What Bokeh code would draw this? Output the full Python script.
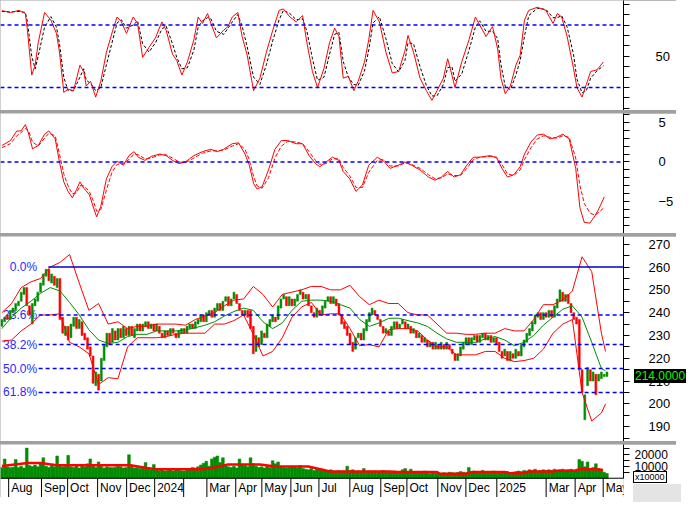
from bokeh.plotting import figure
from bokeh.layouts import column
from bokeh.models import ColumnDataSource, FixedTicker, Span, Range1d, Div
from bokeh.embed import file_html
from bokeh.resources import INLINE
from bokeh.core.properties import value

FONT = "Liberation Sans"

# ---------------- data ----------------
# trading-day positions of sampled bars (every 2nd session)
bar_t = list(range(0, 440, 2))
bar_open = [
    234, 236, 239, 237, 240, 241, 243, 245, 248, 251,
    243, 235, 243, 245, 249, 252, 256, 259, 253, 256,
    251, 255, 238, 230, 234, 229, 234, 238, 233, 236,
    231, 229, 225, 221, 208, 213, 210, 219, 225, 231,
    227, 232, 228, 233, 229, 233, 230, 234, 229, 232,
    235, 232, 234, 236, 233, 235, 232, 234, 231, 229,
    232, 230, 233, 231, 229, 231, 233, 231, 233, 235,
    233, 235, 236, 239, 236, 239, 241, 238, 241, 244,
    241, 245, 247, 243, 246, 248, 244, 241, 239, 241,
    241, 234, 223, 229, 226, 231, 229, 234, 236, 238,
    237, 242, 246, 247, 243, 246, 243, 245, 248, 249,
    246, 248, 243, 240, 238, 241, 239, 242, 245, 247,
    244, 246, 244, 239, 236, 234, 231, 227, 224, 229,
    231, 228, 232, 236, 239, 241, 239, 237, 234, 231,
    232, 230, 233, 236, 233, 235, 236, 233, 234, 231,
    232, 229, 230, 227, 228, 225, 227, 224, 226, 224,
    226, 224, 226, 224, 222, 219, 221, 224, 226, 229,
    226, 228, 230, 227, 229, 231, 228, 230, 227, 229,
    227, 223, 221, 223, 219, 222, 220, 223, 221, 225,
    227, 230, 232, 235, 238, 240, 237, 240, 238, 241,
    238, 242, 245, 249, 245, 248, 244, 240, 238, 237,
    215, 193, 208, 215, 210, 213, 210, 211, 212, 212,
]
bar_close = [
    237, 238, 237, 241, 242, 244, 245, 249, 251, 243,
    239, 244, 246, 249, 253, 257, 259, 254, 257, 252,
    255, 237, 231, 234, 228, 235, 238, 233, 237, 230,
    228, 224, 221, 209, 214, 206, 220, 226, 231, 226,
    233, 228, 233, 229, 234, 230, 234, 230, 233, 235,
    232, 235, 236, 233, 235, 232, 235, 231, 229, 232,
    230, 233, 231, 229, 232, 233, 231, 234, 235, 233,
    236, 237, 239, 236, 240, 241, 238, 242, 244, 241,
    245, 247, 243, 246, 249, 244, 241, 239, 241, 238,
    233, 222, 230, 225, 232, 229, 235, 237, 239, 236,
    243, 246, 248, 243, 247, 243, 246, 248, 250, 246,
    248, 243, 240, 238, 242, 239, 243, 245, 247, 244,
    247, 243, 239, 235, 233, 230, 226, 223, 229, 231,
    228, 233, 237, 240, 242, 239, 237, 234, 231, 233,
    230, 234, 236, 233, 235, 237, 233, 235, 231, 233,
    229, 231, 227, 229, 225, 227, 224, 227, 224, 227,
    224, 227, 224, 222, 219, 222, 225, 227, 229, 226,
    229, 230, 227, 230, 231, 228, 230, 227, 229, 226,
    223, 220, 224, 219, 223, 220, 224, 221, 226, 228,
    231, 233, 236, 239, 240, 237, 240, 238, 241, 238,
    243, 246, 250, 245, 248, 244, 240, 237, 235, 215,
    205, 204, 216, 210, 214, 204, 213, 214, 213, 214,
]
volume = [
    9000, 16000, 9500, 8800, 9200, 15500, 9000, 10000, 8500, 25000,
    10500, 9800, 11000, 9500, 12000, 17000, 10000, 9000, 10500, 9500,
    18500, 11000, 9500, 10000, 19000, 9500, 9000, 10500, 8500, 11000,
    9500, 12000, 16000, 11500, 9000, 13500, 10000, 8500, 9500, 9000,
    8800, 9200, 10000, 9500, 8500, 9000, 19500, 10000, 8500, 9000,
    8000, 9500, 13000, 8500, 7000, 11500, 7500, 6500, 7000, 6000,
    6500, 7000, 6000, 6800, 7500, 6200, 6000, 6800, 8000, 9000,
    8500, 9500, 11000, 12500, 14000, 10000, 16000, 17500, 18500, 13000,
    17000, 11000, 9500, 9000, 10000, 8500, 16000, 11500, 10500, 9500,
    17000, 12000, 10000, 9000, 9500, 8500, 10000, 9000, 14500, 12000,
    13500, 10000, 9000, 8500, 9000, 10000, 9500, 8500, 10500, 8000,
    7500, 7000, 8000, 6500, 7500, 7000, 6500, 6000, 5500, 7000,
    6000, 5500, 6500, 5000, 6000, 10000, 6500, 7000, 5500, 6000,
    5500, 8000, 5000, 6000, 5500, 6000, 5000, 5500, 6500, 5000,
    5500, 5000, 6000, 5500, 5000, 7000, 8000, 5500, 7500, 5000,
    5000, 5500, 4500, 6000, 4500, 4000, 5000, 4200, 4500, 4000,
    4500, 4000, 5000, 4500, 4200, 4800, 5500, 5000, 4500, 9000,
    5500, 6000, 5000, 5500, 6500, 5000, 5500, 5000, 6000, 4500,
    5000, 4800, 4500, 5500, 4500, 5000, 5500, 6000, 5500, 6500,
    6000, 7000, 6500, 7500, 6000, 6500, 7000, 6500, 7000, 6500,
    7500, 6500, 7000, 7500, 6500, 7000, 7500, 6500, 7000, 15500,
    14000, 9500, 13500, 8000, 9000, 12000, 8000, 7500, 5000, 4000,
]

# Bollinger band lines
bb_t = [0, 7, 14, 21, 28, 35, 42, 49, 56, 63, 70, 77, 84, 91, 98, 105, 112, 119,
        126, 133, 140, 147, 154, 161, 168, 175, 182, 189, 196, 203, 210, 217, 224,
        231, 238, 245, 252, 259, 266, 273, 280, 287, 294, 301, 308, 315, 322, 329,
        336, 343, 350, 357, 364, 371, 378, 385, 392, 399, 406, 413, 420, 427, 434, 437]
bb_upper = [240, 244, 251, 253.5, 255, 260, 262, 265.5, 253, 241,
            244, 235, 236, 233, 234, 234, 235, 235, 235, 234.5,
            237, 238.5, 240, 243, 245.5, 246, 251.5, 248, 242.5, 248,
            249, 250, 251.5, 251.5, 250, 250, 252, 247, 243.5, 245.5,
            244, 244, 240, 239, 239, 235, 231, 231, 230.5, 230.5,
            231, 231, 233, 232, 232, 237, 243.5, 243.5, 245.5, 249.5,
            264.5, 258, 231, 223]
bb_mid = [233, 238, 242, 245, 248.5, 251, 249.5, 244.5, 239, 232.5,
          228, 226.5, 227, 229.5, 230.5, 230.5, 232, 232, 232, 232.4,
          233.4, 234.5, 236, 238.5, 240.5, 242, 241, 236, 233, 235.5,
          241, 245, 245.5, 245.5, 245, 243.5, 242, 237, 234, 235.5,
          237.5, 237.6, 236.5, 235.5, 234, 231, 228.5, 227, 227, 227,
          228.5, 229.5, 228, 225.5, 227, 230, 234.5, 238, 241.5, 243,
          238, 227, 215.5, 214.5]
bb_lower = [227.5, 228, 232, 235, 239, 239, 239.5, 227, 225, 222,
            208.5, 211.5, 211, 225, 229, 229, 229, 229.5, 230.5, 231,
            231, 231, 235, 235, 236.5, 239, 230.5, 221, 223, 229,
            238, 242.5, 244.5, 239, 239.5, 239.5, 233, 225.5, 226, 225,
            232.5, 233, 233, 232, 228, 225, 225, 221.5, 221.5, 221.5,
            223, 223, 220, 218.5, 219, 220, 224, 231, 235, 237,
            205, 192.5, 196, 200]

# Fibonacci retracement
fib_high = 260
fib_low = 171
fib_ratios = [0.0, 0.236, 0.382, 0.5, 0.618]
fib_names = ["0.0%", "23.6%", "38.2%", "50.0%", "61.8%"]
fib_start_t = [33.6, 26.6, 26.6, 26.6, 26.6]
last_price = 214.0

# Stochastic
stoch_t = [0, 6.2, 12.4, 17, 18.5, 21.6, 24.1, 26.3, 30.9, 35.5,
           39.5, 41.7, 44.8, 47.9, 51.9, 56.5, 59.3, 61.1, 64.2, 67.9,
           71.6, 75.7, 80.3, 83.4, 86.5, 90.2, 95.1, 98.2, 101.9, 106.5,
           111.2, 115.8, 118.9, 123.5, 126.6, 130.3, 134.3, 139, 142.1, 145.2,
           148.9, 151.3, 155.3, 160.6, 163.7, 166.8, 170.8, 173.9, 177.6, 182.2,
           186.8, 191.5, 196.1, 200.7, 203.8, 208.5, 213.1, 217.7, 220.8, 224.8,
           228.5, 233.2, 237.2, 240.9, 244, 247.1, 250.8, 254.8, 257.9, 262.5,
           265.6, 268.7, 273.3, 278, 282.6, 287.2, 291.8, 294, 298, 302.7,
           307.3, 311.3, 315, 319.6, 322.7, 325.8, 328, 332.9, 338.2, 342.8,
           345.9, 350.5, 355.2, 358.9, 361.3, 364.4, 368.1, 372.1, 375.2, 378.3,
           381.4, 387.6, 393.8, 399, 402.1, 405.2, 409.2, 413.8, 416.3, 420,
           423.1, 426.2, 430.8, 435.5]
stoch_k = [93.8, 92, 94, 91, 75, 32, 41.5, 63, 92, 84.6,
           72, 54, 15.4, 18.5, 17, 41.5, 35, 21.5, 26, 10.8,
           26, 54, 75, 87.7, 83, 72, 87.7, 81.5, 49, 58.5,
           67.7, 83, 75, 52, 46, 32, 44.6, 66, 87.7, 81.5,
           91, 81.5, 67.7, 75, 78.5, 87.7, 92, 69, 51, 17,
           29, 54, 75, 94, 95.4, 87.7, 83, 89, 63, 35.4,
           20, 38.5, 63, 77, 69, 29, 30.8, 17, 26, 44.6,
           66, 94, 83, 54, 34, 35.4, 55.4, 70, 54, 29,
           17, 7.7, 17, 29, 47.7, 32, 20, 44.6, 66, 87.7,
           80, 69, 78.5, 57, 29, 14, 21.5, 41.5, 51, 84.6,
           94, 97, 94, 81.5, 91, 87.7, 69, 38.5, 20, 10.8,
           23, 35.4, 37, 44.6]
stoch_d = [93, 92.5, 93, 92, 83, 50, 38, 50, 78, 88,
           78, 62, 30, 17, 17, 30, 38, 27, 24, 17,
           20, 42, 66, 82, 85, 77, 80, 84, 62, 54,
           63, 76, 79, 62, 49, 38, 39, 56, 78, 84,
           87, 86, 74, 71, 77, 83, 90, 79, 59, 30,
           23, 42, 65, 85, 94, 91, 85, 86, 74, 48,
           27, 30, 52, 71, 73, 45, 30, 23, 22, 36,
           56, 82, 88, 67, 43, 35, 46, 63, 62, 40,
           22, 12, 12, 23, 39, 40, 26, 33, 56, 78,
           84, 74, 74, 67, 42, 21, 18, 32, 46, 69,
           89, 96, 95, 87, 87, 89, 78, 52, 28, 15,
           17, 29, 36, 41]
stoch_levels = [80, 20]

# MACD
macd_t = [0, 6.2, 10.8, 13.9, 17, 19.1, 22.2, 26.3, 30.9, 34,
          38.6, 41.7, 44.8, 47.9, 51, 54, 56.5, 59.3, 63.3, 66.4,
          68.6, 71.6, 75.7, 79.7, 83.4, 88, 92, 95.7, 98.8, 103.5,
          108.1, 114.3, 118.9, 123.5, 128.2, 132.8, 139, 145.2, 151.3, 156,
          160.6, 166.8, 171.4, 176, 179.1, 182.2, 184.7, 188.4, 193, 197.7,
          202.3, 206.9, 213.1, 217.7, 222.4, 227, 230.1, 234.7, 239.3, 244,
          247.1, 251.7, 256.3, 261, 265.6, 271.8, 276.4, 281, 287.2, 291.8,
          296.5, 302.7, 308.8, 313.5, 318.1, 322.7, 327.4, 332, 336.6, 341.3,
          345.9, 353.6, 358.2, 362, 366, 370.6, 375.2, 378.3, 383, 387.6,
          392.2, 396.8, 401.5, 406.1, 410.7, 415.4, 418.5, 421.6, 425.6, 429.3,
          432.4, 436.1]
macd_line = [2.06, 2.7, 3.9, 3.9, 4.7, 3.7, 1.65, 2.06, 3.5, 3.9,
             2.9, 0, -2.5, -3.7, -4.5, -3.5, -2.5, -3.3, -4.1, -5.8,
             -6.9, -5.6, -2.1, -0.6, 0.1, -0.4, 0.8, 1.3, 0.6, 0.2,
             0.7, 1.0, 0.8, 0.2, -0.2, 0, 0.8, 1.3, 1.6, 1.3,
             1.6, 2.3, 2.4, 1.0, -0.4, -2.7, -3.4, -3.1, -1.0, 1.6,
             2.7, 2.7, 2.3, 2.3, 0.8, -0.2, -0.6, 0, 0.6, 0.2,
             -1.2, -2.1, -3.7, -2.9, -0.4, 0.6, 0.1, -0.8, -0.4, 0,
             -0.4, -1.0, -1.9, -2.3, -1.9, -1.2, -1.9, -1.6, -0.4, 0.6,
             0.6, 0.8, 0.5, -0.8, -1.9, -1.6, -0.6, 1.0, 2.5, 3.4,
             3.5, 2.9, 3.1, 3.5, 2.9, -0.8, -5.8, -7.6, -7.7, -6.8,
             -5.8, -4.4]
macd_signal = [1.8, 2.3, 3.3, 3.7, 4.2, 4.0, 2.5, 2.0, 3.0, 3.6,
               3.3, 1.0, -1.5, -3.0, -4.0, -3.9, -3.0, -3.0, -3.7, -5.0,
               -6.2, -6.0, -3.5, -1.3, -0.3, -0.2, 0.3, 1.0, 0.9, 0.4,
               0.5, 0.9, 0.9, 0.5, 0, -0.1, 0.5, 1.1, 1.4, 1.4,
               1.5, 2.0, 2.3, 1.6, 0.3, -1.8, -3.0, -3.3, -2.0, 0.5,
               2.0, 2.6, 2.5, 2.3, 1.3, 0.2, -0.3, -0.2, 0.4, 0.4,
               -0.7, -1.7, -3.2, -3.2, -1.3, 0.2, 0.3, -0.5, -0.5, -0.1,
               -0.3, -0.8, -1.6, -2.1, -2.0, -1.5, -1.7, -1.7, -0.8, 0.3,
               0.6, 0.7, 0.6, -0.3, -1.5, -1.7, -1.0, 0.3, 1.8, 2.9,
               3.3, 3.1, 3.0, 3.3, 3.1, 0.5, -3.0, -5.2, -6.4, -6.7,
               -6.3, -5.7]

# Volume moving average
vma_t = [0, 18.9, 28, 38.5, 46.9, 93.1, 105, 112, 144.9, 154, 163, 186.8, 198,
         221.8, 233, 238, 280, 287, 315, 317, 336, 341, 364, 367, 378, 381, 399,
         402, 415, 418, 430, 435]
vma = [10200, 12600, 12600, 11000, 10800, 10800, 8500, 7400, 7400, 9000, 11300,
       11300, 9800, 9800, 6900, 5500, 5500, 5200, 5200, 3700, 3700, 5200, 5200,
       4200, 4200, 5500, 5500, 6300, 6300, 7400, 7400, 6800]

# X axis (month separators & labels)
sep_t = [4.9, 28.7, 47.6, 69.3, 90.3, 110.6, 131.6, 148.4, 169.3, 188.2, 209.2,
         229.5, 251.9, 274.3, 293.2, 315.6, 335.9, 358.3, 394, 415, 435.3]
month_t = [4.9, 28.7, 47.6, 69.3, 90.3, 110.6, 148.4, 169.3, 188.2, 209.2,
           229.5, 251.9, 274.3, 293.2, 315.6, 335.9, 358.3, 394, 415, 435.3]
month_labels = ["Aug", "Sep", "Oct", "Nov", "Dec", "2024", "Mar", "Apr", "May",
                "Jun", "Jul", "Aug", "Sep", "Oct", "Nov", "Dec", "2025", "Mar",
                "Apr", "May"]

# ---------------- layout ----------------
W = 676
RB = 48
FRAME_W = W - RB
GAP = 3
H1, H2, H3, H4 = 110, 120, 205, 53
Y3 = (183.5, 273.4)
Y4 = (-16000, 28000)
x_range = Range1d(-1, 450)
BLUE = "#0000ff"
RED = "#ff0000"
GREEN = "#008c00"


def make_fig(h, y0, y1):
    p = figure(width=W, height=h, x_range=x_range, y_range=Range1d(y0, y1),
               output_backend="svg", toolbar_location=None,
               x_axis_location=None, y_axis_location="right",
               min_border_left=0, min_border_right=RB, min_border_top=0,
               min_border_bottom=0, background_fill_color="white",
               border_fill_color="white", outline_line_color=None)
    p.grid.visible = False
    ax = p.yaxis[0]
    ax.axis_line_color = "black"
    ax.major_tick_in = 0
    ax.major_tick_out = 6
    ax.minor_tick_in = 0
    ax.minor_tick_out = 6
    ax.major_tick_line_color = "black"
    ax.minor_tick_line_color = "black"
    ax.major_label_text_font = FONT
    ax.major_label_text_font_size = "13px"
    ax.major_label_text_color = "black"
    return p


# Panel 1 : stochastic
p1 = make_fig(H1, -2, 103.5)
p1.yaxis[0].ticker = FixedTicker(ticks=[50], minor_ticks=[0, 10, 20, 30, 40, 60, 70, 80, 90, 100])
p1.yaxis[0].major_label_standoff = 26
for lv in stoch_levels:
    p1.add_layout(Span(location=lv, dimension="width", line_color=BLUE,
                       line_dash="4 3", line_width=1.5))
p1.line(stoch_t, stoch_d, line_color="black", line_dash="3 2", line_width=1)
p1.line(stoch_t, stoch_k, line_color=RED, line_width=1)

# Panel 2 : MACD
p2 = make_fig(H2, -9, 6.1)
p2.yaxis[0].ticker = FixedTicker(ticks=[-5, 0, 5], minor_ticks=[-8, -7, -6, -4, -3, -2, -1, 1, 2, 3, 4, 6])
p2.yaxis[0].major_label_standoff = 29
p2.add_layout(Span(location=0, dimension="width", line_color=BLUE,
                   line_dash="4 3", line_width=1.5))
p2.line(macd_t, macd_signal, line_color=RED, line_dash="4 2", line_width=1)
p2.line(macd_t, macd_line, line_color=RED, line_width=1)

# Panel 3 : price
p3 = make_fig(H3, *Y3)
p3.yaxis[0].ticker = FixedTicker(ticks=[190, 200, 210, 220, 230, 240, 250, 260, 270],
                                 minor_ticks=[185, 195, 205, 215, 225, 235, 245, 255, 265])
p3.yaxis[0].major_label_standoff = 19
fib_levels = [fib_high - r * (fib_high - fib_low) for r in fib_ratios]
p3.text(x=[25.5] * len(fib_levels), y=fib_levels, text=fib_names,
        text_font=value(FONT), text_font_size="12px", text_color="#2a2aff",
        text_align="right", text_baseline="middle")
tops = [max(o, c) for o, c in zip(bar_open, bar_close)]
bots = [min(o, c) for o, c in zip(bar_open, bar_close)]
cols = [GREEN if c >= o else RED for o, c in zip(bar_open, bar_close)]
src = ColumnDataSource(dict(t=bar_t, top=tops, bottom=bots, color=cols))
p3.vbar(x="t", top="top", bottom="bottom", width=1.4, fill_color="color",
        line_color="color", line_width=0.5, source=src)
p3.line(bb_t, bb_upper, line_color=RED, line_width=1)
p3.line(bb_t, bb_lower, line_color=RED, line_width=1)
p3.line(bb_t, bb_mid, line_color=GREEN, line_width=1)
p3.segment(x0=fib_start_t[:1], y0=fib_levels[:1], x1=[450], y1=fib_levels[:1],
           line_color="#0000cc", line_width=1.5)
p3.segment(x0=fib_start_t[1:], y0=fib_levels[1:], x1=[450] * 4, y1=fib_levels[1:],
           line_color=BLUE, line_width=1.5, line_dash="4 3")

# Panel 4 : volume + month strip
p4 = make_fig(H4, *Y4)
p4.yaxis[0].ticker = FixedTicker(ticks=[10000, 20000], minor_ticks=[5000, 15000, 25000])
p4.yaxis[0].bounds = (0, 28000)
p4.yaxis[0].major_label_text_font_size = "12px"
p4.yaxis[0].major_label_standoff = 5
p4.vbar(x=bar_t, top=volume, bottom=0, width=2.0, fill_color=GREEN,
        line_color=GREEN, line_width=0.5)
p4.line(vma_t, vma, line_color=RED, line_width=2.5)
p4.add_layout(Span(location=0, dimension="width", line_color="black", line_width=1))
p4.segment(x0=sep_t, y0=[0] * len(sep_t), x1=sep_t, y1=[-16000] * len(sep_t),
           line_color="black", line_width=1)
p4.text(x=[t + 1.8 for t in month_t], y=[-8000] * len(month_t), text=month_labels,
        text_font=value(FONT), text_font_size="12px", text_color="black",
        text_align="left", text_baseline="middle")

# price tag, volume unit box and grey corner, placed over the right axis strip
p3_top = H1 + GAP + H2 + GAP
tag_y = p3_top + (Y3[1] - last_price) / (Y3[1] - Y3[0]) * H3
price_tag = Div(text="%.4f" % last_price, styles={
    "position": "absolute", "left": "%dpx" % (FRAME_W + 1), "top": "%dpx" % round(tag_y - 7),
    "background-color": "black", "color": "#00ff00", "font-family": FONT,
    "font-size": "12px", "line-height": "14px", "padding": "0px 1px", "z-index": "10"})
p4_top = p3_top + H3 + GAP
unit_y = p4_top + Y4[1] / (Y4[1] - Y4[0]) * H4
corner = Div(text="", styles={
    "position": "absolute", "left": "%dpx" % FRAME_W, "top": "%dpx" % round(unit_y + 1),
    "width": "%dpx" % RB, "height": "%dpx" % round(p4_top + H4 - unit_y - 1),
    "background-color": "#e4e4e4", "z-index": "9"})
unit_box = Div(text="x10000", styles={
    "position": "absolute", "left": "%dpx" % FRAME_W, "top": "%dpx" % round(unit_y - 12),
    "background-color": "white", "color": "black", "border": "1px solid black",
    "font-family": FONT, "font-size": "9px", "line-height": "10px",
    "padding": "0px 1px", "z-index": "10"})

layout = column(p1, p2, p3, p4, price_tag, corner, unit_box, spacing=GAP,
                styles={"background-color": "#a0a0a0", "position": "relative"})

open("out.html", "w").write(file_html(layout, INLINE))
